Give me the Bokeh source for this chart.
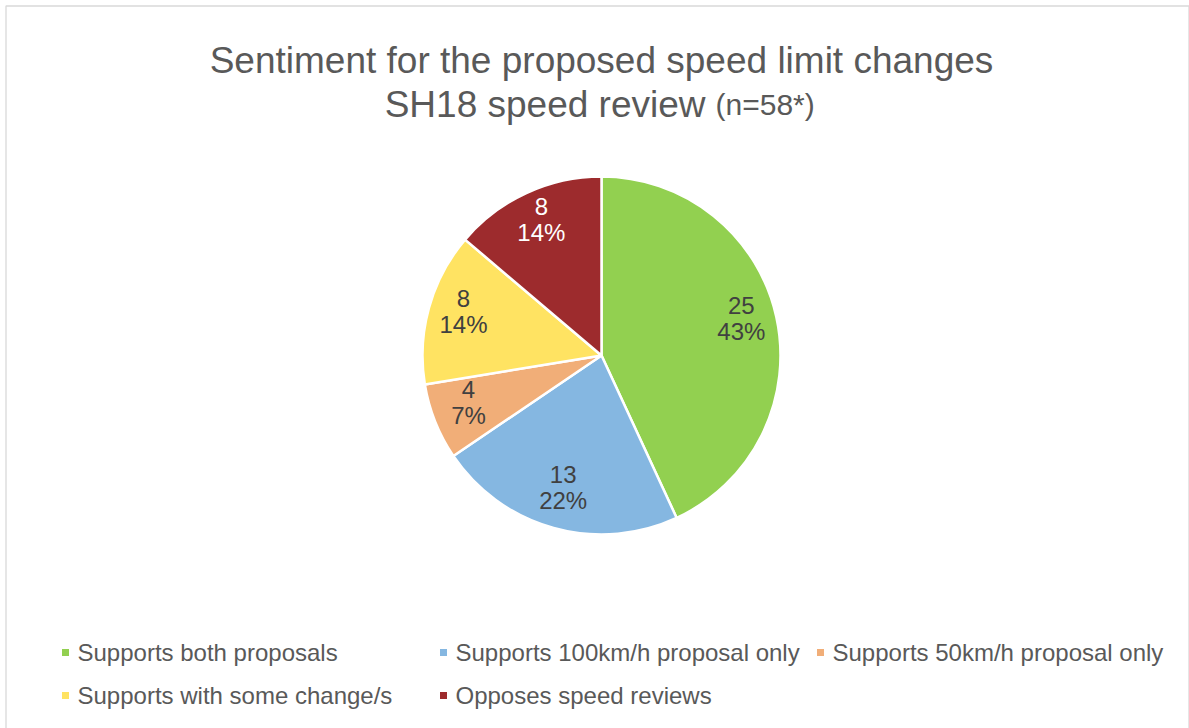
import math
from bokeh.plotting import figure
from bokeh.models import Range1d, ColumnDataSource
from bokeh.core.properties import value
from bokeh.embed import file_html
from bokeh.resources import INLINE

# ---- data ----
categories = ["Supports both proposals", "Supports 100km/h proposal only",
              "Supports 50km/h proposal only", "Supports with some change/s",
              "Opposes speed reviews"]
counts = [25, 13, 4, 8, 8]
percent_labels = ["43%", "22%", "7%", "14%", "14%"]
colors = ["#92D050", "#85B7E1", "#F1AE78", "#FFE362", "#9D2B2D"]
label_colors = ["#404040", "#404040", "#404040", "#404040", "#FFFFFF"]
title_line1 = "Sentiment for the proposed speed limit changes"
title_line2 = "SH18 speed review"
title_n = "(n=58*)"

# ---- layout ----
W, H = 1189, 728
FONT = "Liberation Sans"
TXT = "#595959"
cx, cy, R = 601, H - 355, 179

p = figure(width=W, height=H, x_range=Range1d(0, W), y_range=Range1d(0, H),
           output_backend="svg", toolbar_location=None, min_border=0)
p.axis.visible = False
p.grid.visible = False
p.outline_line_color = None
p.background_fill_color = "white"
p.border_fill_color = "white"

# chart border
p.quad(left=[5.5], right=[1188.5], bottom=[-5], top=[H - 5.5], fill_color=None,
       line_color="#D9D9D9", line_width=1.3)

# ---- pie ----
total = sum(counts)
starts, ends, lx, ly, texts = [], [], [], [], []
cum = 0
for c, pct in zip(counts, percent_labels):
    a0 = math.pi / 2 - 2 * math.pi * cum / total
    a1 = math.pi / 2 - 2 * math.pi * (cum + c) / total
    mid = (a0 + a1) / 2
    starts.append(a0)
    ends.append(a1)
    lx.append(cx + 0.8 * R * math.cos(mid))
    ly.append(cy + 0.8 * R * math.sin(mid) + 6)
    texts.append(f"{c}\n{pct}")
    cum += c

src = ColumnDataSource(dict(start=starts, end=ends, color=colors, lx=lx, ly=ly,
                            text=texts, tcolor=label_colors))
p.wedge(x=cx, y=cy, radius=R, start_angle="start", end_angle="end",
        direction="clock", fill_color="color", line_color="white",
        line_width=2.5, source=src)
p.text(x="lx", y="ly", text="text", text_color="tcolor", source=src,
       text_font=value(FONT), text_font_size="24px", text_align="center",
       text_baseline="middle", text_line_height=0.97)

# ---- title ----
p.text(x=[cx], y=[H - 60], text=[title_line1], text_font=value(FONT),
       text_font_size="37px", text_color=TXT, text_align="center",
       text_baseline="alphabetic")
p.text(x=[705], y=[H - 104], text=[title_line2], text_font=value(FONT),
       text_font_size="37px", text_color=TXT, text_align="right",
       text_baseline="alphabetic")
p.text(x=[715], y=[H - 104], text=[title_n], text_font=value(FONT),
       text_font_size="30px", text_color=TXT, text_align="left",
       text_baseline="alphabetic")

# ---- legend ----
leg_x = [65, 443, 820, 65, 443]
leg_y = [H - 652, H - 652, H - 652, H - 695, H - 695]
lsrc = ColumnDataSource(dict(x=leg_x, y=leg_y, tx=[x + 12 for x in leg_x],
                             color=colors, label=categories))
p.rect(x="x", y="y", width=7, height=7, fill_color="color", line_color=None,
       source=lsrc)
p.text(x="tx", y="y", text="label", source=lsrc, text_font=value(FONT),
       text_font_size="24px", text_color=TXT, text_align="left",
       text_baseline="middle")

open("out.html", "w").write(file_html(p, INLINE))
